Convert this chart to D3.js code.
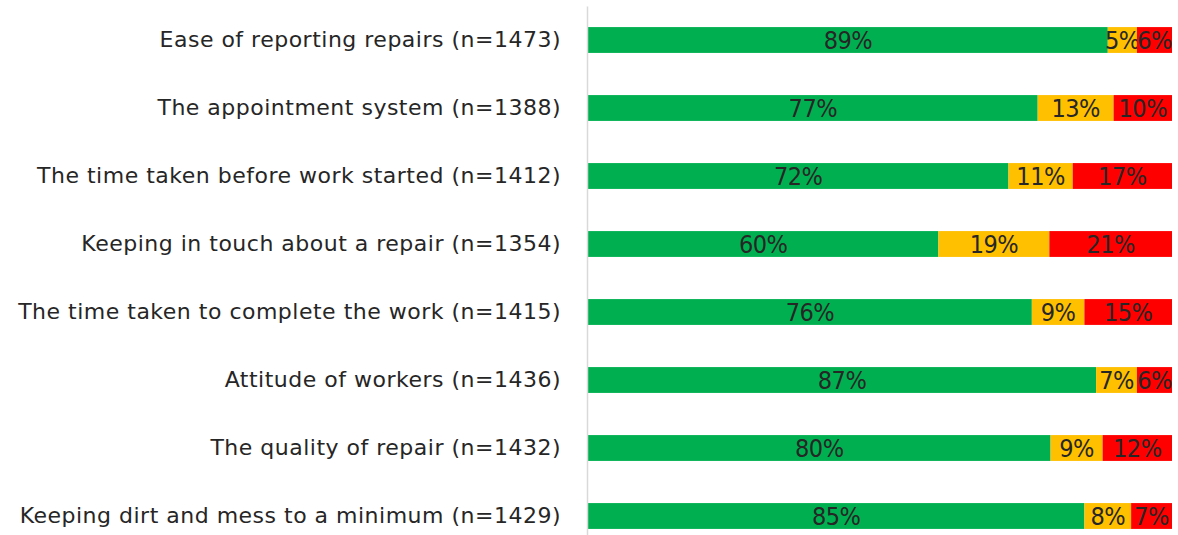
<!DOCTYPE html>
<html>
<head>
<meta charset="utf-8">
<script src="https://cdn.jsdelivr.net/npm/d3@7"></script>
<style>
  body { margin: 0; background: #fff; }
  text { fill: #262626; }
</style>
</head>
<body>
<div id="chart"></div>
<script>
const categories = [
  "Ease of reporting repairs (n=1473)",
  "The appointment system (n=1388)",
  "The time taken before work started (n=1412)",
  "Keeping in touch about a repair (n=1354)",
  "The time taken to complete the work (n=1415)",
  "Attitude of workers (n=1436)",
  "The quality of repair (n=1432)",
  "Keeping dirt and mess to a minimum (n=1429)"
];
const satisfied = [89, 77, 72, 60, 76, 87, 80, 85];
const neutral = [5, 13, 11, 19, 9, 7, 9, 8];
const dissatisfied = [6, 10, 17, 21, 15, 6, 12, 7];
const seriesKeys = ["satisfied", "neutral", "dissatisfied"];
const seriesColors = ["#00b050", "#ffc000", "#ff0000"];

const width = 1178, height = 535;
const margin = { top: 6, right: 6, bottom: -15, left: 588 };

const rows = categories.map((c, i) => ({
  name: c,
  satisfied: satisfied[i],
  neutral: neutral[i],
  dissatisfied: dissatisfied[i]
}));

const stacked = d3.stack()
  .keys(seriesKeys)
  .offset(d3.stackOffsetExpand)(rows);

const svg = d3.select("#chart")
  .append("svg")
  .attr("width", width)
  .attr("height", height);

const x = d3.scaleLinear()
  .domain([0, 1])
  .range([margin.left, width - margin.right]);

const y = d3.scaleBand()
  .domain(categories)
  .range([margin.top, height - margin.bottom])
  .paddingInner(0.62)
  .paddingOuter(0.31);

// series
const groups = svg.selectAll("g.series")
  .data(stacked)
  .join("g")
  .attr("class", "series")
  .attr("fill", (d, i) => seriesColors[i]);

groups.selectAll("rect")
  .data(d => d)
  .join("rect")
  .attr("x", d => x(d[0]))
  .attr("y", d => y(d.data.name))
  .attr("width", d => x(d[1]) - x(d[0]))
  .attr("height", y.bandwidth());

groups.selectAll("text")
  .data((d) => d.map(v => ({ v, key: d.key })))
  .join("text")
  .attr("x", d => (x(d.v[0]) + x(d.v[1])) / 2)
  .attr("y", d => y(d.v.data.name) + y.bandwidth() / 2)
  .attr("dy", "0.36em")
  .attr("text-anchor", "middle")
  .style("font-family", "'DejaVu Sans Condensed', 'DejaVu Sans', sans-serif")
  .style("font-stretch", "condensed")
  .style("font-size", "25px")
  .style("letter-spacing", "-0.5px")
  .text(d => d.v.data[d.key] + "%");

// category axis
const yAxis = d3.axisLeft(y).tickSize(0).tickPadding(26);
const ax = svg.append("g")
  .attr("transform", `translate(${margin.left - 1},0)`)
  .call(yAxis);
ax.select(".domain").attr("stroke", "#d9d9d9").attr("stroke-width", 1.5);
ax.selectAll(".tick text")
  .attr("fill", "#262626")
  .style("font-family", "'DejaVu Sans', sans-serif")
  .style("font-size", "22px")
  .style("letter-spacing", "0.5px");
</script>
</body>
</html>
